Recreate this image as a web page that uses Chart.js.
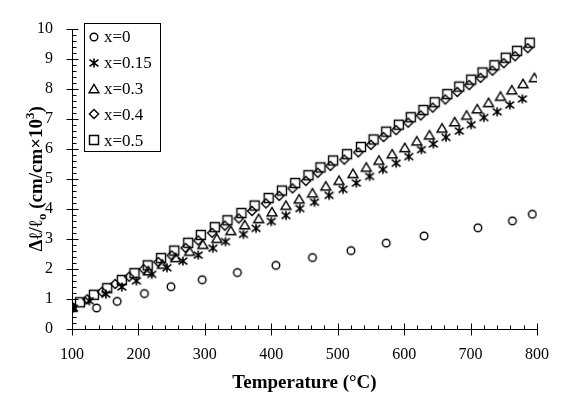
<!DOCTYPE html>
<html>
<head>
<meta charset="utf-8">
<script src="https://cdn.jsdelivr.net/npm/chart.js@4"></script>
<style>
  html, body { margin: 0; padding: 0; background: #fff; }
  #wrap { width: 565px; height: 394px; }
</style>
</head>
<body>
<div id="wrap"><canvas id="expansion-chart" width="565" height="394"></canvas></div>
<script>
// thermal expansion, Δl/l0 (cm/cm x 10^3) vs temperature (°C)
const seriesNames = ['x=0', 'x=0.15', 'x=0.3', 'x=0.4', 'x=0.5'];

const tempX0 = [100, 137, 168, 209, 249, 296, 349, 407, 462, 520, 573, 630, 711, 763, 793];
const valX0 = [0.72, 0.70, 0.92, 1.18, 1.41, 1.64, 1.88, 2.12, 2.38, 2.61, 2.86, 3.10, 3.37, 3.60, 3.82];

const tempX015 = [102, 126, 151, 175, 197, 220, 243, 267, 290, 312, 331, 358, 377, 400, 422, 443, 465,
    487, 508, 528, 548, 568, 588, 607, 626, 644, 663, 683, 701, 720, 740, 759, 778];
const valX015 = [0.70, 0.94, 1.16, 1.40, 1.60, 1.82, 2.04, 2.26, 2.46, 2.69, 2.91, 3.15, 3.35, 3.58, 3.78, 4.01, 4.22,
    4.45, 4.65, 4.86, 5.08, 5.31, 5.52, 5.74, 5.97, 6.16, 6.38, 6.59, 6.80, 7.04, 7.23, 7.46, 7.66];

const tempX03 = [100, 215, 236, 256, 277, 297, 318, 339, 360, 381, 401, 422, 442, 462, 482, 502, 523,
    543, 562, 582, 601, 619, 638, 657, 676, 694, 710, 727, 745, 762, 779, 796];
const valX03 = [0.72, 1.93, 2.15, 2.37, 2.58, 2.81, 3.01, 3.27, 3.46, 3.67, 3.89, 4.11, 4.32, 4.52, 4.75, 4.94, 5.17,
    5.38, 5.61, 5.82, 6.03, 6.25, 6.45, 6.68, 6.89, 7.11, 7.32, 7.53, 7.74, 7.95, 8.16, 8.36];

const tempX04 = [100, 123, 145, 165, 186, 208, 230, 250, 271, 290, 311, 330, 351, 371, 392, 412, 432, 452,
    470, 489, 510, 531, 550, 569, 588, 606, 625, 643, 662, 680, 698, 715, 733, 750, 767, 786];
const valX04 = [0.74, 0.99, 1.24, 1.50, 1.74, 1.99, 2.23, 2.45, 2.70, 2.95, 3.20, 3.44, 3.68, 3.93, 4.18, 4.43, 4.68, 4.93,
    5.20, 5.43, 5.64, 5.88, 6.13, 6.39, 6.62, 6.87, 7.11, 7.37, 7.64, 7.89, 8.12, 8.36, 8.60, 8.85, 9.08, 9.35];

const tempX05 = [112, 133, 153, 175, 194, 214, 234, 254, 275, 294, 315, 334, 355, 375, 396, 416, 436, 456,
    474, 493, 514, 535, 554, 573, 592, 610, 629, 646, 665, 683, 701, 718, 736, 753, 770, 789];
const valX05 = [0.89, 1.14, 1.36, 1.63, 1.86, 2.12, 2.36, 2.61, 2.87, 3.13, 3.39, 3.62, 3.86, 4.11, 4.36, 4.61, 4.86, 5.12,
    5.38, 5.61, 5.82, 6.06, 6.31, 6.57, 6.80, 7.05, 7.29, 7.55, 7.82, 8.07, 8.30, 8.54, 8.78, 9.03, 9.26, 9.53];

const xTicks = [100, 200, 300, 400, 500, 600, 700, 800];
const yTicks = [0, 1, 2, 3, 4, 5, 6, 7, 8, 9, 10];

const SERIF = "'Liberation Serif', 'Times New Roman', serif";

// hollow black markers, drawn once on small canvases
function marker(draw) {
    const c = document.createElement('canvas');
    c.width = 14;
    c.height = 14;
    const g = c.getContext('2d');
    g.strokeStyle = '#000';
    g.lineWidth = 1.4;
    g.translate(7, 7);
    g.beginPath();
    draw(g);
    g.stroke();
    return c;
}

const markers = [
    marker(g => { g.arc(0, 0, 3.8, 0, Math.PI * 2); }),
    marker(g => {
        g.lineWidth = 1.6;
        g.moveTo(0, -4.6); g.lineTo(0, 4.6);
        g.moveTo(-4.4, -3.4); g.lineTo(4.4, 3.4);
        g.moveTo(-4.4, 3.4); g.lineTo(4.4, -3.4);
    }),
    marker(g => { g.moveTo(0, -4.6); g.lineTo(5, 3.8); g.lineTo(-5, 3.8); g.closePath(); }),
    marker(g => { g.moveTo(0, -4.6); g.lineTo(4.6, 0); g.lineTo(0, 4.6); g.lineTo(-4.6, 0); g.closePath(); }),
    marker(g => { g.rect(-4.5, -4.5, 9, 9); })
];

function points(xs, ys) {
    return xs.map((x, i) => ({ x: x, y: ys[i] }));
}

const seriesData = [
    points(tempX0, valX0),
    points(tempX015, valX015),
    points(tempX03, valX03),
    points(tempX04, valX04),
    points(tempX05, valX05)
];

// axis lines with crossing major ticks and inward minor ticks
const axesPlugin = {
    id: 'axes',
    afterDatasetsDraw(chart) {
        const ctx = chart.ctx;
        const area = chart.chartArea;
        const xs = chart.scales.x;
        const ys = chart.scales.y;
        const left = Math.round(area.left) + 0.5;
        const bottom = Math.round(area.bottom) + 0.5;
        ctx.save();
        ctx.strokeStyle = '#000';
        ctx.lineWidth = 1;
        ctx.beginPath();
        ctx.moveTo(left, Math.round(area.top));
        ctx.lineTo(left, bottom);
        ctx.lineTo(Math.round(area.right) + 1, bottom);
        for (let v = 0; v <= 10.001; v += 0.2) {
            const p = Math.round(ys.getPixelForValue(v)) + 0.5;
            const major = Math.abs(v - Math.round(v)) < 0.01;
            ctx.moveTo(major ? left - 6 : left, p);
            ctx.lineTo(major ? left + 6 : left + 4, p);
        }
        for (let v = 100; v <= 800; v += 20) {
            const p = Math.round(xs.getPixelForValue(v)) + 0.5;
            const major = v % 100 === 0;
            ctx.moveTo(p, major ? bottom + 6 : bottom);
            ctx.lineTo(p, major ? bottom - 6 : bottom - 4);
        }
        ctx.stroke();
        ctx.restore();
    }
};

// axis titles, with sub/superscripts on the vertical one
const titlesPlugin = {
    id: 'titles',
    afterDraw(chart) {
        const ctx = chart.ctx;
        const area = chart.chartArea;
        ctx.save();
        ctx.fillStyle = '#000';
        ctx.textBaseline = 'alphabetic';
        ctx.font = 'bold 19px ' + SERIF;
        ctx.textAlign = 'center';
        ctx.fillText('Temperature (°C)', (area.left + area.right) / 2, 388);

        const big = 'bold 19px ' + SERIF;
        const small = 'bold 13px ' + SERIF;
        const parts = [
            { t: 'Δ', f: big, dy: 0 },
            { t: 'ℓ', f: big, dy: 0 },
            { t: '/', f: big, dy: 0 },
            { t: 'ℓ', f: big, dy: 0 },
            { t: 'o', f: small, dy: 4 },
            { t: ' (cm/cm×10', f: big, dy: 0 },
            { t: '3', f: small, dy: -8 },
            { t: ')', f: big, dy: 0 }
        ];
        let total = 0;
        parts.forEach(p => { ctx.font = p.f; p.w = ctx.measureText(p.t).width; total += p.w; });
        ctx.translate(42, (area.top + area.bottom) / 2);
        ctx.rotate(-Math.PI / 2);
        ctx.textAlign = 'left';
        let x = -total / 2;
        parts.forEach(p => {
            ctx.font = p.f;
            ctx.fillText(p.t, x, p.dy);
            x += p.w;
        });
        ctx.restore();
    }
};

// boxed legend inside the plot
const legendPlugin = {
    id: 'boxLegend',
    afterDraw(chart) {
        const ctx = chart.ctx;
        ctx.save();
        ctx.fillStyle = '#fff';
        ctx.fillRect(84.5, 23.5, 76, 128);
        ctx.strokeStyle = '#000';
        ctx.lineWidth = 1;
        ctx.strokeRect(84.5, 23.5, 76, 128);
        ctx.font = '17px ' + SERIF;
        ctx.fillStyle = '#000';
        ctx.textAlign = 'left';
        ctx.textBaseline = 'middle';
        chart.data.datasets.forEach((ds, i) => {
            const y = 37 + i * 25.8;
            ctx.drawImage(markers[i], 94 - 7, Math.round(y) - 7);
            ctx.fillText(ds.label, 104, y + 1);
        });
        ctx.restore();
    }
};

const ctx = document.getElementById('expansion-chart').getContext('2d');
new Chart(ctx, {
    type: 'scatter',
    data: {
        datasets: seriesNames.map((name, i) => ({
            label: name,
            data: seriesData[i],
            pointStyle: markers[i],
            pointRadius: 5,
            showLine: false
        }))
    },
    options: {
        responsive: false,
        animation: false,
        layout: { padding: { top: 17, right: 13, left: 0, bottom: 0 } },
        plugins: {
            legend: { display: false },
            tooltip: { enabled: false }
        },
        scales: {
            x: {
                type: 'linear',
                min: 100,
                max: 800,
                afterBuildTicks(scale) { scale.ticks = xTicks.map(v => ({ value: v })); },
                afterFit(scale) { scale.height = 65; },
                grid: { display: false, drawTicks: false },
                border: { display: false },
                ticks: { color: '#000', padding: 16, font: { family: SERIF, size: 16 } }
            },
            y: {
                type: 'linear',
                min: 0,
                max: 10,
                afterBuildTicks(scale) { scale.ticks = yTicks.map(v => ({ value: v })); },
                afterFit(scale) { scale.width = 72; },
                grid: { display: false, drawTicks: false },
                border: { display: false },
                ticks: { color: '#000', padding: 19, font: { family: SERIF, size: 16 } }
            }
        }
    },
    plugins: [axesPlugin, titlesPlugin, legendPlugin]
});
</script>
</body>
</html>
